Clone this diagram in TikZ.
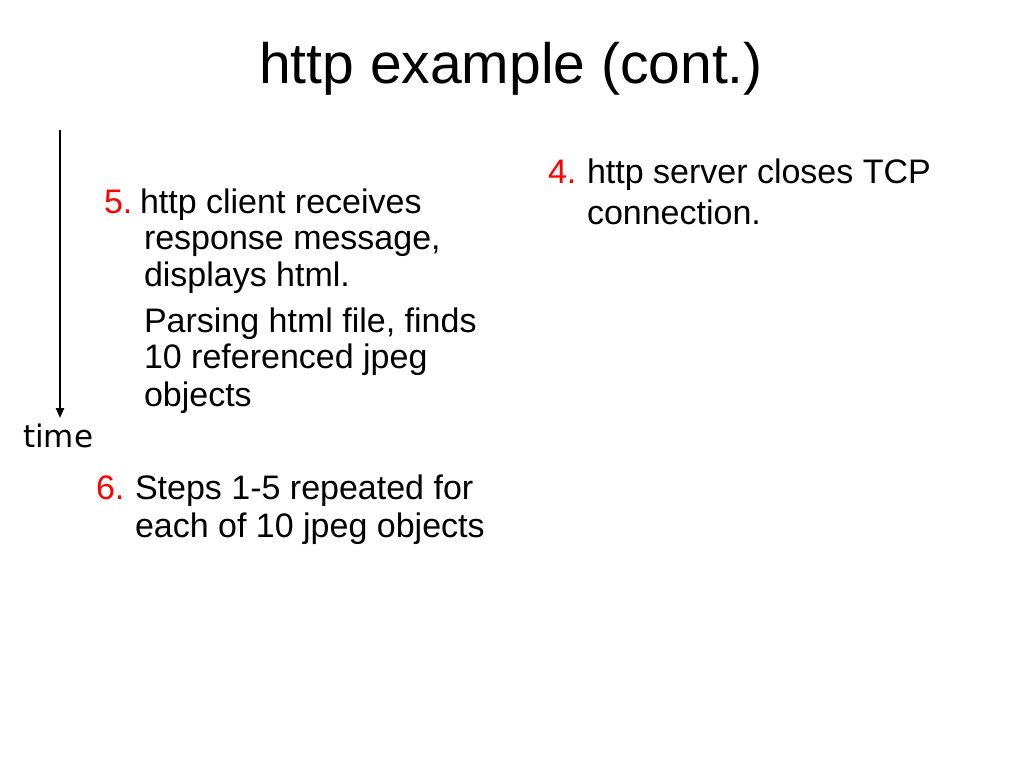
\documentclass[tikz,border=0pt]{standalone}
\usepackage{fontspec}
\setmainfont{Liberation Sans}
\newfontfamily\timefont{DejaVu Sans}
\usetikzlibrary{arrows.meta}
\tikzset{
  txt/.style={anchor=base west, inner sep=0pt, outer sep=0pt, font=\fontsize{34}{40}\selectfont, text=black},
  num/.style={txt, text=red},
  ttl/.style={anchor=base, inner sep=0pt, font=\fontsize{57}{66}\selectfont},
  timeax/.style={line width=2pt, -{Triangle[length=10pt,width=8pt]}},
}
\begin{document}
\begin{tikzpicture}[x=1pt,y=-1pt]
\useasboundingbox[fill=white] (0,0) rectangle (1024,768);
\node[ttl] (title) at (511,83) {http example (cont.)};
% step 4
\node[num] (n4) at (548,183) {4.};
\node[txt] (s4a) at (587,183) {http server closes TCP};
\node[txt] (s4b) at (587,224) {connection.};
% step 5
\node[num] (n5) at (104,213) {5.};
\node[txt] (s5a) at (140,213) {http client receives};
\node[txt] (s5b) at (144,249) {response message,};
\node[txt] (s5c) at (144,286) {displays html.};
\node[txt] (s5d) at (144,332) {Parsing html file, finds};
\node[txt] (s5e) at (144,368) {10 referenced jpeg};
\node[txt] (s5f) at (144,406) {objects};
% step 6
\node[num] (n6) at (96,499) {6.};
\node[txt] (s6a) at (135,499) {Steps 1-5 repeated for};
\node[txt] (s6b) at (135,537) {each of 10 jpeg objects};
% time axis
\coordinate (ttop) at (60,130);
\coordinate (tbot) at (60,418);
\draw[timeax] (ttop) -- (tbot);
\node[anchor=base west, inner sep=0pt, font=\timefont\fontsize{31}{36}\selectfont] (time) at (23,447) {time};
\end{tikzpicture}
\end{document}
